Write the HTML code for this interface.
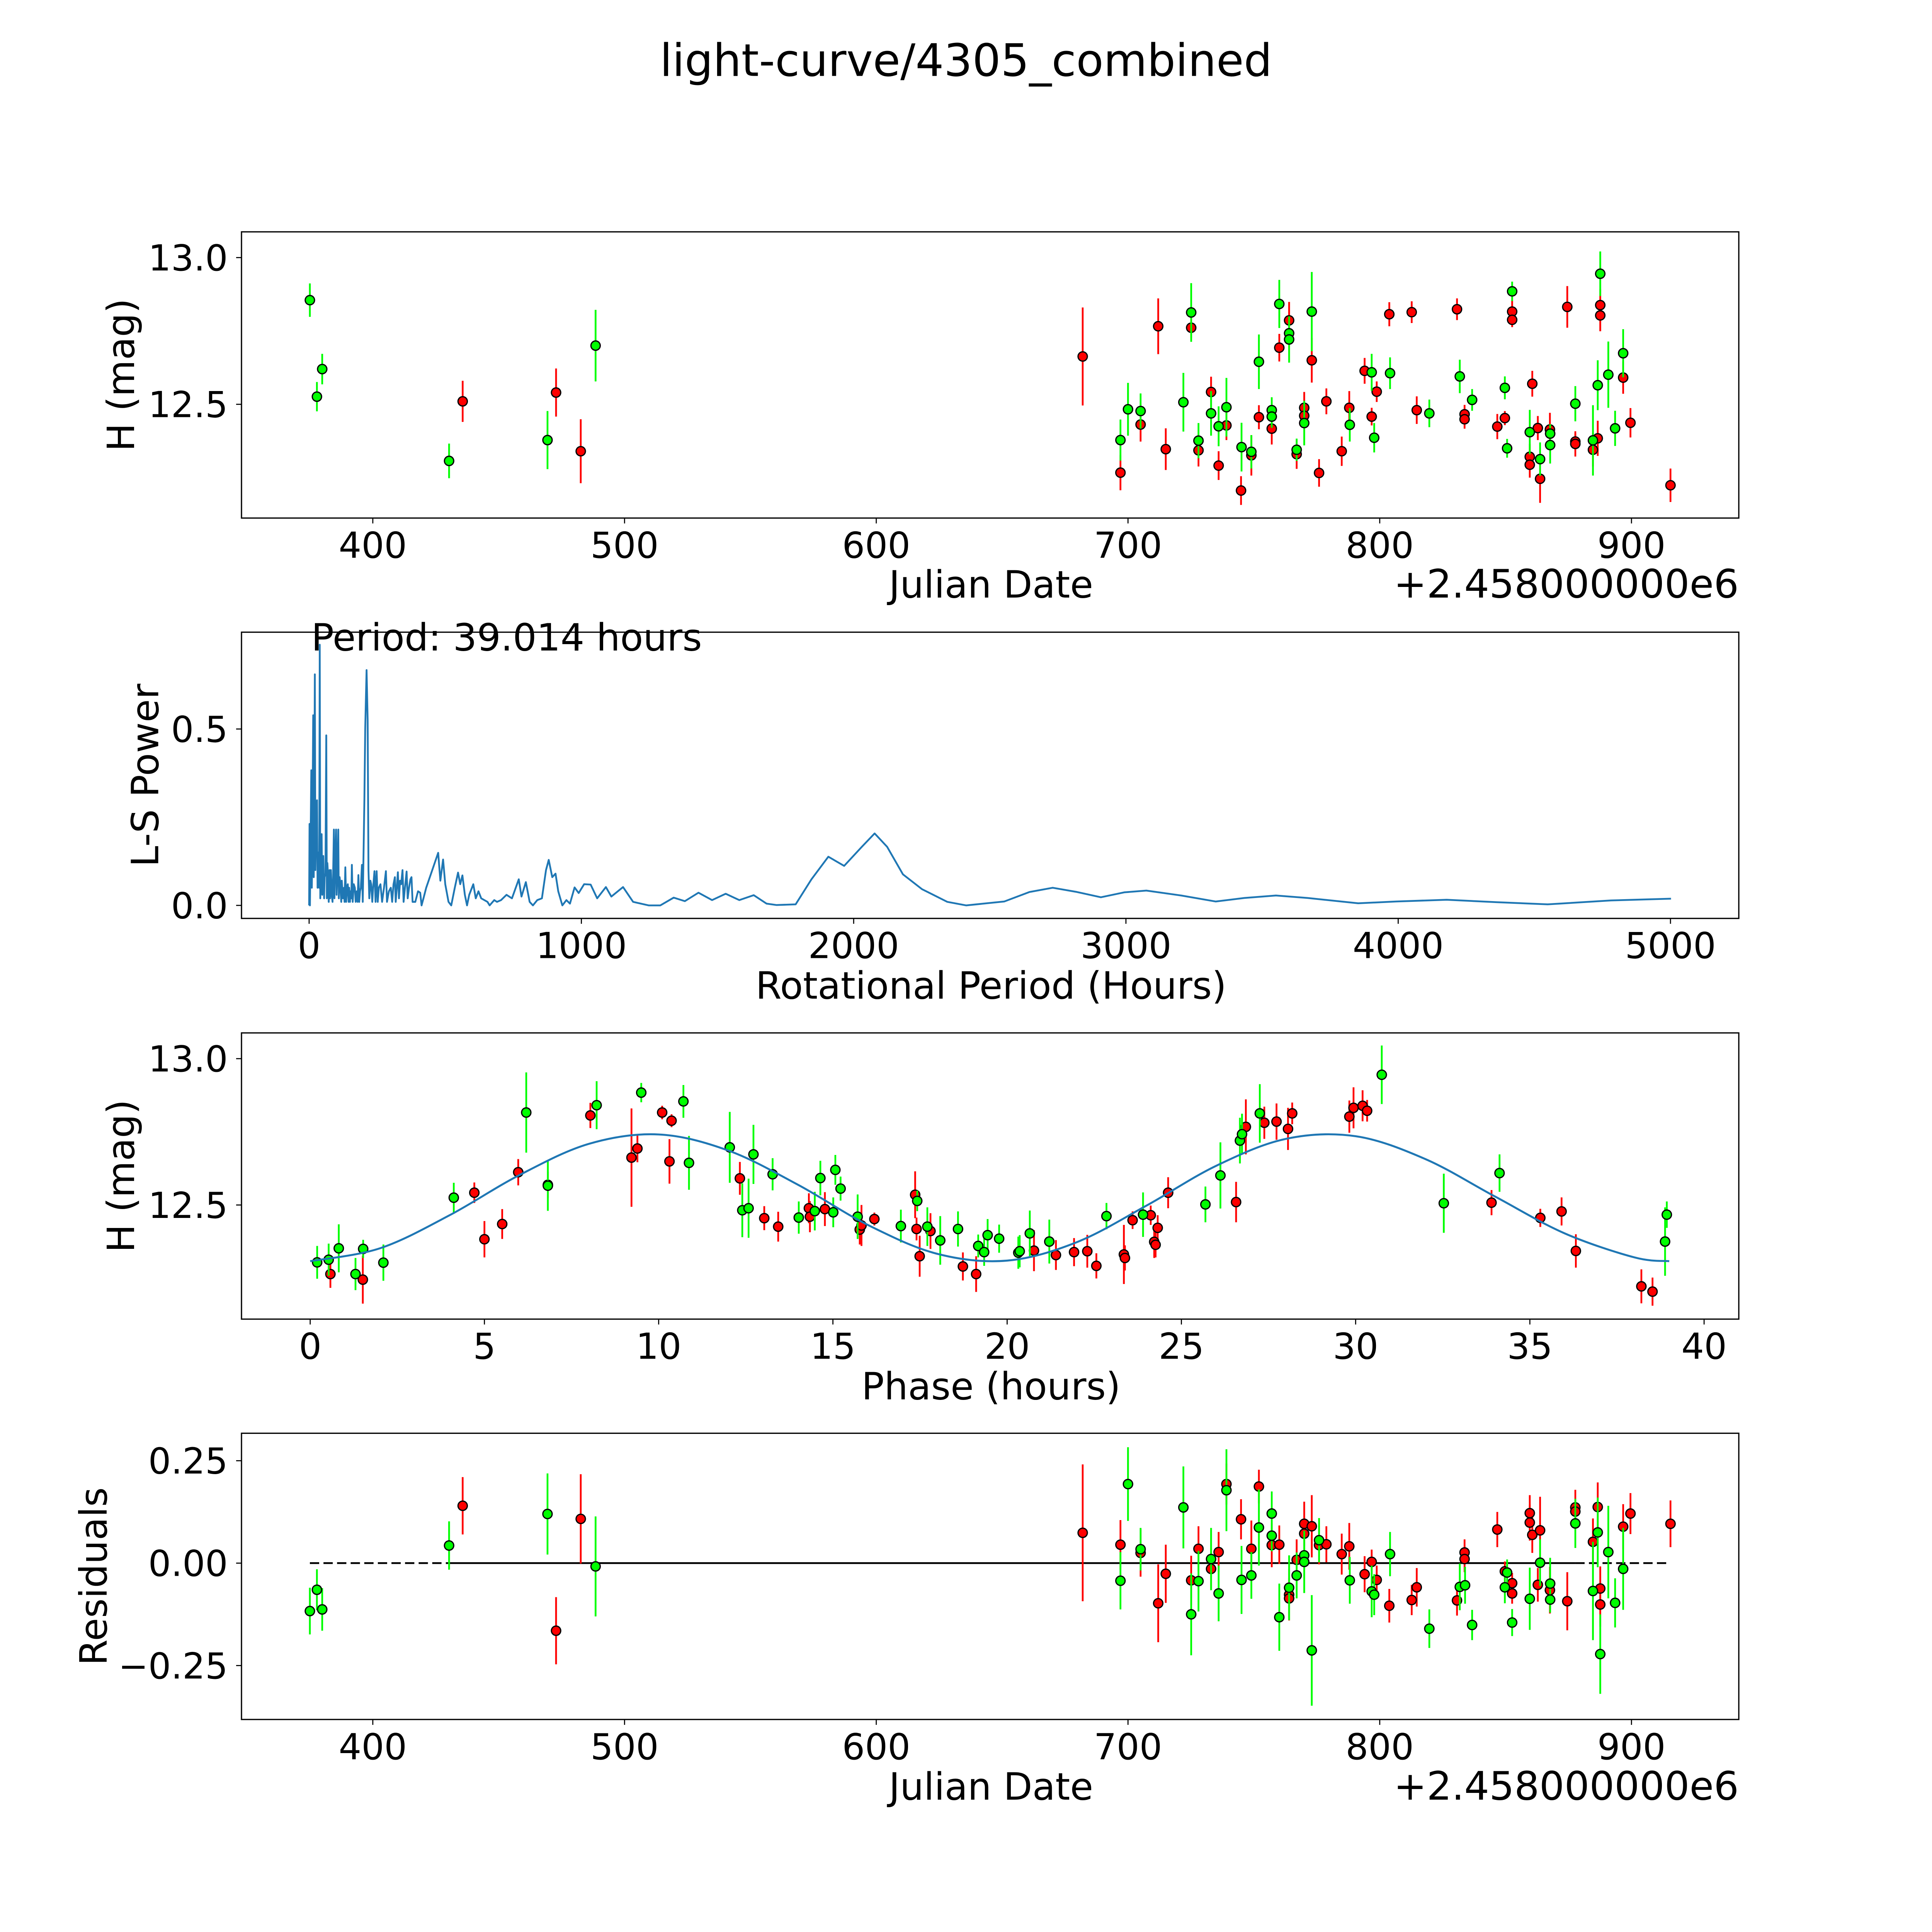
<!DOCTYPE html>
<html><head><meta charset="utf-8"><title>light-curve/4305_combined</title>
<style>
html,body{margin:0;padding:0;background:#fff;overflow:hidden;}
svg{display:block;}
text{font-family:"DejaVu Sans","Liberation Sans",sans-serif;fill:#000;}
</style></head>
<body>
<svg id="fig" xmlns="http://www.w3.org/2000/svg" width="5400" height="5400" viewBox="0 0 5832 5832">
<rect x="0" y="0" width="5832" height="5832" fill="#fff"/>
<text x="2700" y="212" font-size="125" text-anchor="middle">light-curve/4305_combined</text>
<text x="2770" y="1670" font-size="105" text-anchor="middle">Julian Date</text>
<text x="4860" y="1670" font-size="110" text-anchor="end">+2.458000000e6</text>
<text transform="translate(375,1048) rotate(-90)" font-size="105" text-anchor="middle">H (mag)</text>
<text x="2770" y="2791" font-size="105" text-anchor="middle">Rotational Period (Hours)</text>
<text transform="translate(442,2167) rotate(-90)" font-size="105" text-anchor="middle">L-S Power</text>
<text x="870" y="1818" font-size="105">Period: 39.014 hours</text>
<text x="2770" y="3911" font-size="105" text-anchor="middle">Phase (hours)</text>
<text transform="translate(375,3287) rotate(-90)" font-size="105" text-anchor="middle">H (mag)</text>
<text x="2770" y="5030" font-size="105" text-anchor="middle">Julian Date</text>
<text x="4860" y="5030" font-size="110" text-anchor="end">+2.458000000e6</text>
<text transform="translate(298,4406) rotate(-90)" font-size="105" text-anchor="middle">Residuals</text>
<g id="layer"></g>
</svg>
<script>
// ---------- data ----------
const lcGreenJd  = [375.0,377.8,379.9,430.3,469.4,488.5,697.0,700.0,705.0,722.0,725.1,728.0,733.0,736.0,739.1,745.1,749.0,752.0,757.1,757.1,760.1,764.0,764.0,767.0,770.0,773.0,788.1,796.8,797.8,804.1,819.7,831.8,836.7,849.7,850.6,852.6,859.6,863.7,867.7,867.7,877.7,884.7,886.6,887.6,890.8,893.5,896.7];
const lcGreenMag = [12.855,12.526,12.62,12.307,12.378,12.70,12.378,12.483,12.477,12.507,12.813,12.376,12.469,12.425,12.490,12.354,12.338,12.645,12.480,12.458,12.842,12.742,12.721,12.345,12.436,12.816,12.430,12.609,12.386,12.606,12.469,12.595,12.515,12.556,12.350,12.885,12.405,12.313,12.361,12.400,12.502,12.377,12.565,12.945,12.601,12.418,12.674];
const lcGreenErr = [0.057,0.05,0.052,0.059,0.099,0.122,0.07,0.09,0.06,0.10,0.10,0.06,0.076,0.068,0.10,0.083,0.057,0.093,0.044,0.038,0.082,0.032,0.079,0.038,0.076,0.135,0.057,0.063,0.05,0.054,0.047,0.057,0.037,0.039,0.032,0.033,0.076,0.057,0.063,0.032,0.06,0.12,0.085,0.076,0.113,0.06,0.082];
const lcRedJd  = [435.7,472.8,482.6,682.0,697.0,705.0,712.0,715.0,725.1,728.0,733.0,736.0,739.1,744.9,749.0,752.0,757.1,760.1,764.0,767.0,770.0,770.0,773.0,775.9,778.8,784.9,787.9,794.0,796.8,798.8,803.8,812.7,814.7,830.7,833.7,833.7,846.7,849.7,852.6,852.6,859.6,859.6,860.6,862.8,863.7,867.6,874.5,877.7,877.7,884.7,886.6,887.6,887.6,896.7,899.6,915.5];
const lcRedMag = [12.51,12.54,12.34,12.663,12.267,12.431,12.766,12.347,12.761,12.343,12.542,12.291,12.428,12.206,12.326,12.456,12.417,12.693,12.786,12.330,12.488,12.461,12.650,12.266,12.510,12.340,12.488,12.614,12.458,12.543,12.807,12.814,12.480,12.824,12.466,12.449,12.424,12.453,12.816,12.788,12.321,12.294,12.570,12.419,12.246,12.414,12.832,12.373,12.365,12.345,12.384,12.838,12.803,12.591,12.437,12.224];
const lcRedErr = [0.07,0.082,0.109,0.167,0.06,0.058,0.095,0.071,0.035,0.055,0.052,0.049,0.05,0.049,0.069,0.041,0.054,0.047,0.063,0.05,0.054,0.038,0.076,0.047,0.044,0.05,0.057,0.044,0.03,0.035,0.041,0.037,0.047,0.037,0.032,0.032,0.043,0.024,0.038,0.025,0.044,0.044,0.044,0.041,0.082,0.057,0.071,0.028,0.043,0.057,0.06,0.054,0.054,0.055,0.05,0.057];

const lsPeriod = [0,1.5,3,5,8,10,12,15,17,19,21,23,26,29,31,34,37,39,41,43,46,48,50,52,55,57,60,63,65,67,70,72,75,77,80,83,86,88,91,93,95,99,101,104,107,109,112,115,118,120,124,128,130,133,136,139,142,145,147,150,152,155,157,160,164,168,171,175,178,181,184,187,190,194,197,203,206,211,215,218,221,225,228,232,235,240,244,248,252,256,262,268,275,282,286,293,300,305,310,315,318,322,326,330,334,338,343,347,352,358,362,367,372,376,380,390,400,408,413,420,430,474,482,492,500,512,522,535,547,555,563,572,580,588,603,612,622,632,655,663,680,690,705,725,745,770,780,796,810,822,838,855,870,880,893,905,915,930,945,958,975,990,1010,1034,1058,1090,1110,1153,1190,1247,1290,1339,1380,1430,1480,1530,1580,1633,1680,1717,1787,1845,1907,1965,2030,2077,2123,2181,2251,2344,2413,2553,2646,2731,2820,2908,2994,3075,3203,3330,3435,3551,3667,3853,3992,4178,4364,4549,4782,5002];
const lsPower  = [0,0.231,0,0.15,0.383,0.05,0.2,0.539,0.08,0.3,0.655,0.1,0.25,0.298,0.05,0.15,0.05,0.739,0.02,0.12,0.202,0.03,0.1,0.14,0.02,0.08,0.09,0.482,0.02,0.12,0.08,0.01,0.1,0.02,0.1,0.03,0.01,0.08,0.215,0.02,0.1,0.215,0.03,0.1,0.215,0.02,0.08,0.06,0.01,0.07,0.02,0.05,0.01,0.108,0.01,0.05,0.06,0.01,0.05,0.01,0.04,0.02,0.115,0.01,0.06,0.05,0.01,0.04,0.01,0.086,0.01,0.04,0.05,0.115,0.01,0.3,0.5,0.667,0.525,0.1,0.02,0.07,0.06,0.01,0.05,0.097,0.01,0.097,0.01,0.05,0.06,0.01,0.05,0.097,0.01,0.04,0.05,0.01,0.06,0.08,0.01,0.05,0.094,0.02,0.07,0.06,0.1,0.01,0.05,0.096,0.02,0.05,0.074,0.08,0.01,0.01,0.04,0.036,0.0,0.02,0.05,0.149,0.07,0.13,0.06,0.01,0.0,0.05,0.093,0.06,0.085,0.03,0.0,0.03,0.06,0.02,0.04,0.02,0.01,0.0,0.015,0.01,0.015,0.03,0.02,0.074,0.025,0.066,0.01,0.0,0.015,0.02,0.1,0.129,0.08,0.09,0.04,0.0,0.015,0.005,0.051,0.035,0.06,0.059,0.02,0.052,0.025,0.052,0.01,0.0,0.0,0.022,0.012,0.036,0.015,0.033,0.015,0.029,0.005,0.001,0.003,0.074,0.138,0.112,0.166,0.204,0.166,0.088,0.046,0.010,0.0,0.011,0.038,0.050,0.038,0.023,0.037,0.042,0.028,0.011,0.021,0.028,0.021,0.006,0.011,0.016,0.009,0.003,0.014,0.019];

const phGreenPh  = [0.20,0.53,0.82,1.30,1.52,2.10,4.12,6.20,6.82,8.22,9.50,10.71,10.87,12.04,12.40,12.58,12.72,13.27,14.02,14.48,14.64,15.01,15.07,15.22,15.71,16.95,17.42,17.71,18.08,18.59,19.17,19.34,19.44,19.77,20.32,20.36,20.65,21.21,22.85,23.90,25.69,26.12,26.68,26.74,27.25,30.75,32.53,34.13,38.88,38.93];
const phGreenMag = [12.304,12.313,12.352,12.264,12.350,12.303,12.525,12.816,12.566,12.841,12.884,12.854,12.644,12.697,12.482,12.489,12.673,12.605,12.457,12.479,12.592,12.475,12.620,12.556,12.460,12.428,12.514,12.426,12.379,12.418,12.360,12.339,12.397,12.385,12.337,12.342,12.403,12.375,12.462,12.467,12.502,12.601,12.720,12.742,12.813,12.945,12.506,12.609,12.375,12.467];
const phGreenErr = [0.056,0.055,0.082,0.055,0.031,0.062,0.051,0.137,0.086,0.082,0.033,0.056,0.092,0.121,0.092,0.101,0.101,0.055,0.055,0.066,0.059,0.051,0.051,0.041,0.076,0.056,0.035,0.066,0.083,0.060,0.039,0.047,0.055,0.048,0.055,0.055,0.078,0.075,0.045,0.076,0.061,0.113,0.078,0.07,0.1,0.1,0.101,0.064,0.117,0.045];
const phRedPh  = [0.58,1.51,4.71,5.00,5.51,5.97,6.82,8.04,9.22,9.39,10.10,10.37,10.31,12.33,13.03,13.43,14.31,14.34,14.77,15.77,15.82,16.19,17.36,17.40,17.80,17.49,18.73,19.11,20.77,21.40,21.92,22.30,22.56,23.35,23.38,23.60,24.12,24.22,24.26,24.32,24.62,26.57,26.85,27.38,27.73,28.06,28.18,29.82,29.94,30.20,30.33,33.90,35.30,35.91,36.32,38.20,38.52];
const phRedMag = [12.264,12.245,12.542,12.383,12.435,12.612,12.569,12.806,12.662,12.693,12.816,12.788,12.649,12.591,12.455,12.426,12.489,12.460,12.486,12.416,12.430,12.452,12.535,12.418,12.411,12.325,12.290,12.264,12.344,12.329,12.339,12.342,12.292,12.331,12.319,12.448,12.465,12.374,12.364,12.422,12.542,12.510,12.767,12.781,12.785,12.760,12.813,12.802,12.832,12.839,12.822,12.508,12.456,12.478,12.343,12.222,12.204];
const phRedErr = [0.047,0.082,0.035,0.062,0.051,0.045,0.045,0.043,0.168,0.047,0.023,0.022,0.076,0.056,0.041,0.051,0.051,0.053,0.058,0.051,0.07,0.022,0.08,0.039,0.061,0.07,0.048,0.061,0.07,0.051,0.048,0.056,0.043,0.101,0.043,0.03,0.033,0.055,0.043,0.043,0.053,0.069,0.094,0.055,0.062,0.072,0.037,0.055,0.07,0.053,0.037,0.043,0.031,0.048,0.057,0.058,0.048];
const modelPhase = [0,2,4,6,8,10,12,14,16,18,20,22,24,26,28,30,32,34,36,38,39];
const modelMag   = [12.308,12.352,12.465,12.602,12.709,12.741,12.686,12.569,12.432,12.333,12.310,12.373,12.498,12.634,12.726,12.735,12.657,12.529,12.403,12.321,12.308];

const resGreenJd  = [375.0,377.8,379.9,430.3,469.4,488.5,697.0,700.0,705.0,722.0,725.1,728.0,733.0,736.0,739.1,745.1,749.0,752.0,757.1,757.1,760.1,764.0,767.0,770.0,770.0,773.0,775.9,788.1,796.8,797.8,804.1,819.7,831.8,833.9,836.7,849.7,850.6,852.6,859.6,863.7,867.7,867.7,877.7,884.7,886.6,887.6,890.8,893.5,896.7];
const resGreenVal = [-0.117,-0.065,-0.113,0.043,0.12,-0.008,-0.043,0.193,0.034,0.136,-0.125,-0.044,0.010,-0.074,0.178,-0.041,-0.030,0.087,0.121,0.067,-0.132,-0.060,-0.030,0.019,0.003,-0.213,0.056,-0.042,-0.069,-0.077,0.022,-0.160,-0.058,-0.054,-0.151,-0.059,-0.023,-0.145,-0.087,0.001,-0.050,-0.089,0.097,-0.068,0.075,-0.222,0.027,-0.097,-0.014];
const resGreenErr = [0.057,0.05,0.052,0.059,0.099,0.122,0.07,0.09,0.052,0.10,0.1,0.074,0.076,0.068,0.10,0.083,0.057,0.093,0.054,0.038,0.082,0.079,0.056,0.032,0.076,0.135,0.054,0.057,0.063,0.05,0.054,0.047,0.057,0.045,0.037,0.039,0.032,0.033,0.076,0.057,0.063,0.032,0.06,0.12,0.085,0.097,0.113,0.06,0.1];
const resRedJd  = [435.7,472.8,482.6,682.0,697.0,705.0,712.0,715.0,725.1,728.0,733.0,736.0,739.1,744.9,749.0,752.0,757.1,760.1,764.0,764.0,767.0,770.0,770.0,773.0,775.9,778.8,784.9,787.9,794.0,796.8,798.8,803.8,812.7,814.7,830.7,833.7,833.7,846.7,849.7,852.6,852.6,859.6,859.6,860.6,862.8,863.7,867.6,874.5,877.7,877.7,884.7,886.6,887.6,887.6,896.7,899.6,915.5];
const resRedVal = [0.14,-0.165,0.108,0.074,0.045,0.025,-0.098,-0.026,-0.042,0.035,-0.014,0.027,0.193,0.107,0.035,0.187,0.044,0.045,-0.077,-0.086,0.008,0.096,0.072,0.090,0.044,0.046,0.022,0.041,-0.027,0.003,-0.041,-0.104,-0.090,-0.059,-0.091,0.026,0.010,0.082,-0.020,-0.049,-0.074,0.122,0.099,0.069,-0.053,0.080,-0.066,-0.093,0.136,0.126,0.052,0.137,-0.062,-0.101,0.089,0.121,0.096];
const resRedErr = [0.07,0.082,0.109,0.167,0.06,0.058,0.095,0.071,0.06,0.055,0.052,0.049,0.05,0.049,0.069,0.041,0.054,0.047,0.063,0.05,0.05,0.054,0.038,0.076,0.047,0.044,0.05,0.057,0.044,0.03,0.035,0.041,0.037,0.047,0.037,0.032,0.032,0.043,0.024,0.025,0.025,0.044,0.044,0.044,0.041,0.082,0.057,0.071,0.043,0.028,0.057,0.06,0.054,0.054,0.055,0.05,0.057];

const jdTicks = [400,500,600,700,800,900];
const lsXTicks = [0,1000,2000,3000,4000,5000];
const lsYTicks = [0.0,0.5];
const lsYTickLabels = ['0.0','0.5'];
const magTicks = [13.0,12.5];
const magTickLabels = ['13.0','12.5'];
const phTicks = [0,5,10,15,20,25,30,35,40];
const resTicks = [0.25,0.0,-0.25];
const resTickLabels = ['0.25','0.00','\u22120.25'];

// ---------- axis functions ----------
const P1 = {x0:675,x1:4860,y0:648,y1:1448};
const P2 = {x0:675,x1:4860,y0:1767,y1:2567};
const P3 = {x0:675,x1:4860,y0:2887,y1:3687};
const P4 = {x0:675,x1:4860,y0:4006,y1:4806};
const sxJd  = v => 1042 + (v-400)*7.036;
const syMag = v => 720 + (13.0-v)*820;
const sxLs  = v => 864 + v*0.761;
const syLs  = v => 2530.6 - v*986;
const sxPh  = v => 867 + v*97.4;
const syPh  = v => 2959 + (13.0-v)*818;
const syRes = v => 4369 - v*1145;

const NS = 'http://www.w3.org/2000/svg';
const layer = document.getElementById('layer');
function mk(tag, parent){ const e=document.createElementNS(NS,tag); parent.appendChild(e); return e; }

function frame(P, name){
  const r = mk('rect', layer);
  r.setAttribute('x',P.x0); r.setAttribute('y',P.y0);
  r.setAttribute('width',P.x1-P.x0); r.setAttribute('height',P.y1-P.y0);
  r.setAttribute('fill','none'); r.setAttribute('stroke','#000'); r.setAttribute('stroke-width','3.5');
  
  
}
function xTicks(P, vals, labels, sx, name){
  vals.forEach((v,i)=>{
    const x = sx(v);
    const l = mk('line', layer);
    l.setAttribute('x1',x); l.setAttribute('x2',x); l.setAttribute('y1',P.y1); l.setAttribute('y2',P.y1+15);
    l.setAttribute('stroke','#000'); l.setAttribute('stroke-width','3');
    
    
    const t = mk('text', layer);
    t.setAttribute('x',x); t.setAttribute('y',P.y1+111); t.setAttribute('font-size','100'); t.setAttribute('text-anchor','middle');
    t.textContent = labels[i];
    
    
  });
}
function yTicks(P, vals, labels, sy, name){
  vals.forEach((v,i)=>{
    const y = sy(v);
    const l = mk('line', layer);
    l.setAttribute('x1',P.x0-15); l.setAttribute('x2',P.x0); l.setAttribute('y1',y); l.setAttribute('y2',y);
    l.setAttribute('stroke','#000'); l.setAttribute('stroke-width','3');
    
    
    const t = mk('text', layer);
    t.setAttribute('x',P.x0-38); t.setAttribute('y',y+36); t.setAttribute('font-size','100'); t.setAttribute('text-anchor','end');
    t.textContent = labels[i];
    
    
  });
}
function points(xs, ys, es, color, sx, sy, name){
  const g = mk('g', layer);
  
  
  xs.forEach((x,i)=>{
    const l = mk('line', g);
    l.setAttribute('x1',sx(x)); l.setAttribute('x2',sx(x));
    l.setAttribute('y1',sy(ys[i]-es[i])); l.setAttribute('y2',sy(ys[i]+es[i]));
    l.setAttribute('stroke',color); l.setAttribute('stroke-width','5');
    
    
  });
  xs.forEach((x,i)=>{
    const c = mk('circle', g);
    c.setAttribute('cx',sx(x)); c.setAttribute('cy',sy(ys[i])); c.setAttribute('r','13');
    c.setAttribute('fill',color); c.setAttribute('stroke','#000'); c.setAttribute('stroke-width','3.5');
    
    
  });
}
function smoothPath(xs, ys, sx, sy){
  const p = xs.map((x,i)=>[sx(x),sy(ys[i])]);
  let d = 'M'+p[0][0]+','+p[0][1];
  for(let i=0;i<p.length-1;i++){
    const p0=p[Math.max(0,i-1)], p1=p[i], p2=p[i+1], p3=p[Math.min(p.length-1,i+2)];
    const c1=[p1[0]+(p2[0]-p0[0])/6, p1[1]+(p2[1]-p0[1])/6];
    const c2=[p2[0]-(p3[0]-p1[0])/6, p2[1]-(p3[1]-p1[1])/6];
    d += ' C'+c1[0]+','+c1[1]+' '+c2[0]+','+c2[1]+' '+p2[0]+','+p2[1];
  }
  return d;
}

// Panel 1: light curve
frame(P1,'lc-axes-frame');
xTicks(P1, jdTicks, jdTicks.map(String), sxJd, 'lc-x');
yTicks(P1, magTicks, magTickLabels, syMag, 'lc-y');
points(lcRedJd, lcRedMag, lcRedErr, '#ff0000', sxJd, syMag, 'lc-red-series');
points(lcGreenJd, lcGreenMag, lcGreenErr, '#00ff00', sxJd, syMag, 'lc-green-series');

// Panel 2: periodogram
frame(P2,'ls-axes-frame');
xTicks(P2, lsXTicks, lsXTicks.map(String), sxLs, 'ls-x');
yTicks(P2, lsYTicks, lsYTickLabels, syLs, 'ls-y');
const lsLine = mk('polyline', layer);
lsLine.setAttribute('points', lsPeriod.map((h,i)=>sxLs(h)+','+syLs(lsPower[i])).join(' '));
lsLine.setAttribute('fill','none'); lsLine.setAttribute('stroke','#1f77b4'); lsLine.setAttribute('stroke-width','5'); lsLine.setAttribute('stroke-linejoin','round');



// Panel 3: phase folded
frame(P3,'phase-axes-frame');
xTicks(P3, phTicks, phTicks.map(String), sxPh, 'phase-x');
yTicks(P3, magTicks, magTickLabels, syPh, 'phase-y');
points(phRedPh, phRedMag, phRedErr, '#ff0000', sxPh, syPh, 'phase-red-series');
points(phGreenPh, phGreenMag, phGreenErr, '#00ff00', sxPh, syPh, 'phase-green-series');
const model = mk('path', layer);
model.setAttribute('d', smoothPath(modelPhase, modelMag, sxPh, syPh));
model.setAttribute('fill','none'); model.setAttribute('stroke','#1f77b4'); model.setAttribute('stroke-width','5.5');



// Panel 4: residuals
frame(P4,'res-axes-frame');
xTicks(P4, jdTicks, jdTicks.map(String), sxJd, 'res-x');
yTicks(P4, resTicks, resTickLabels, syRes, 'res-y');
const zeroSegs = [[375,430,true],[430,877.7,false],[877.7,915.5,true]];
zeroSegs.forEach(s=>{
  const l = mk('line', layer);
  l.setAttribute('x1',sxJd(s[0])); l.setAttribute('x2',sxJd(s[1]));
  l.setAttribute('y1',syRes(0)); l.setAttribute('y2',syRes(0));
  l.setAttribute('stroke','#000'); l.setAttribute('stroke-width','5');
  if(s[2]) l.setAttribute('stroke-dasharray','26,12');
  
  
});
points(resRedJd, resRedVal, resRedErr, '#ff0000', sxJd, syRes, 'res-red-series');
points(resGreenJd, resGreenVal, resGreenErr, '#00ff00', sxJd, syRes, 'res-green-series');
</script>
</body></html>
